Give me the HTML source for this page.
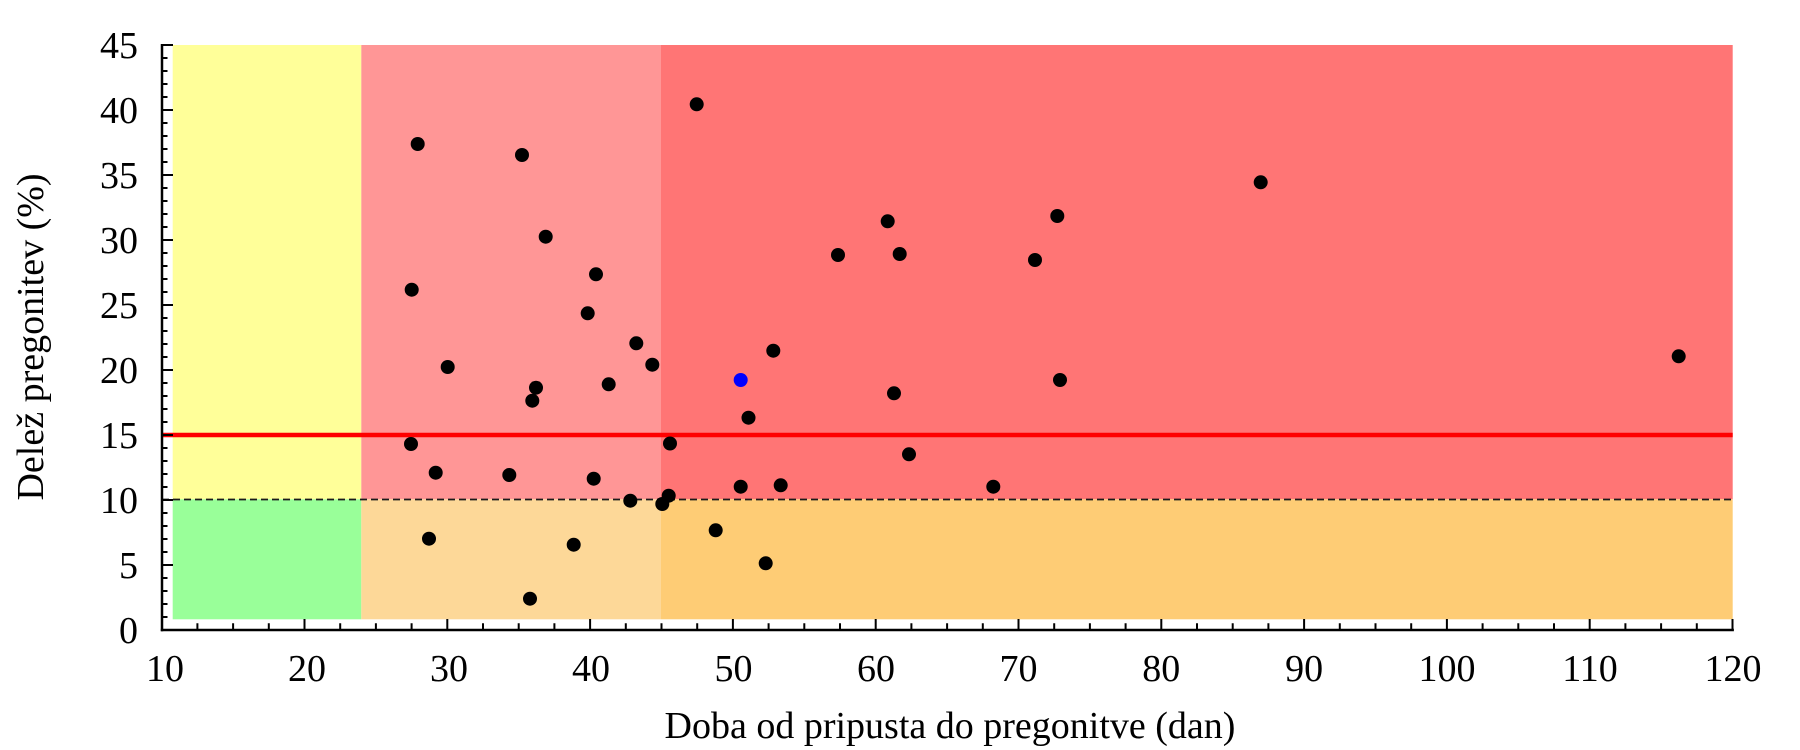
<!DOCTYPE html>
<html>
<head>
<meta charset="utf-8">
<style>
  html, body { margin: 0; padding: 0; background: #ffffff; }
  svg { display: block; }
  text { font-family: "Liberation Serif", "DejaVu Serif", serif; fill: #000; }
</style>
</head>
<body>
<svg width="1800" height="750" viewBox="0 0 1800 750" xmlns="http://www.w3.org/2000/svg">
  <rect x="0" y="0" width="1800" height="750" fill="#ffffff"/>

  <rect x="172.7" y="45" width="188.6" height="454.3" fill="#ffff99"/>
  <rect x="361.3" y="45" width="299.7" height="454.3" fill="#ff9696"/>
  <rect x="661" y="45" width="1071.7" height="454.3" fill="#ff7575"/>
  <rect x="172.7" y="499.3" width="188.6" height="120" fill="#99ff99"/>
  <rect x="361.3" y="499.3" width="299.7" height="120" fill="#fdd898"/>
  <rect x="661" y="499.3" width="1071.7" height="120" fill="#fecc75"/>

  <line x1="162" y1="435" x2="1732.7" y2="435" stroke="#ff0000" stroke-width="4.5"/>
  <line x1="162" y1="499.5" x2="1732.7" y2="499.5" stroke="#1a1a1a" stroke-width="1.8" stroke-dasharray="7,4"/>

  <g fill="#000000">
    <circle cx="696.7" cy="104.3" r="7"/>
    <circle cx="417.7" cy="144" r="7"/>
    <circle cx="522" cy="155" r="7"/>
    <circle cx="1260.7" cy="182.3" r="7"/>
    <circle cx="1057.3" cy="216" r="7"/>
    <circle cx="887.7" cy="221.3" r="7"/>
    <circle cx="545.7" cy="236.7" r="7"/>
    <circle cx="838" cy="255" r="7"/>
    <circle cx="899.7" cy="254" r="7"/>
    <circle cx="1035" cy="260" r="7"/>
    <circle cx="596" cy="274.3" r="7"/>
    <circle cx="411.7" cy="289.7" r="7"/>
    <circle cx="587.7" cy="313.3" r="7"/>
    <circle cx="636.3" cy="343.3" r="7"/>
    <circle cx="773.3" cy="350.7" r="7"/>
    <circle cx="1678.7" cy="356.3" r="7"/>
    <circle cx="652.3" cy="364.7" r="7"/>
    <circle cx="447.7" cy="367" r="7"/>
    <circle cx="1060" cy="380" r="7"/>
    <circle cx="608.7" cy="384.3" r="7"/>
    <circle cx="536" cy="387.7" r="7"/>
    <circle cx="894" cy="393.3" r="7"/>
    <circle cx="532.3" cy="400.7" r="7"/>
    <circle cx="748.5" cy="417.7" r="7"/>
    <circle cx="411" cy="444" r="7"/>
    <circle cx="670" cy="443.5" r="7"/>
    <circle cx="909" cy="454.3" r="7"/>
    <circle cx="435.7" cy="472.7" r="7"/>
    <circle cx="509.3" cy="475" r="7"/>
    <circle cx="593.7" cy="478.7" r="7"/>
    <circle cx="740.7" cy="486.7" r="7"/>
    <circle cx="780.7" cy="485.3" r="7"/>
    <circle cx="993.3" cy="486.7" r="7"/>
    <circle cx="630.3" cy="500.7" r="7"/>
    <circle cx="668.7" cy="495.7" r="7"/>
    <circle cx="662.3" cy="504" r="7"/>
    <circle cx="429" cy="538.7" r="7"/>
    <circle cx="573.7" cy="544.7" r="7"/>
    <circle cx="715.7" cy="530.3" r="7"/>
    <circle cx="765.7" cy="563.3" r="7"/>
    <circle cx="530" cy="598.7" r="7"/>
  </g>
  <circle cx="740.7" cy="380" r="7" fill="#0000ff"/>

  <g stroke="#000" stroke-width="2.5" fill="none">
    <line x1="162" y1="44" x2="162" y2="631.2"/>
    <line x1="160.8" y1="630" x2="1733.9" y2="630"/>
  </g>

  <path stroke="#000" stroke-width="2" fill="none" d="M162 45h11M162 110h11M162 175h11M162 240h11M162 305h11M162 370h11M162 435h11M162 500h11M162 565h11"/>
  <path stroke="#000" stroke-width="2" fill="none" d="M162 58h5.5M162 71h5.5M162 84h5.5M162 97h5.5M162 123h5.5M162 136h5.5M162 149h5.5M162 162h5.5M162 188h5.5M162 201h5.5M162 214h5.5M162 227h5.5M162 253h5.5M162 266h5.5M162 279h5.5M162 292h5.5M162 318h5.5M162 331h5.5M162 344h5.5M162 357h5.5M162 383h5.5M162 396h5.5M162 409h5.5M162 422h5.5M162 448h5.5M162 461h5.5M162 474h5.5M162 487h5.5M162 513h5.5M162 526h5.5M162 539h5.5M162 552h5.5M162 578h5.5M162 591h5.5M162 604h5.5M162 617h5.5"/>

  <path stroke="#000" stroke-width="2" fill="none" d="M304.5 630v-11M447.3 630v-11M590.1 630v-11M732.9 630v-11M875.7 630v-11M1018.5 630v-11M1161.3 630v-11M1304.1 630v-11M1446.9 630v-11M1589.7 630v-11M1732.5 630v-11"/>
  <path stroke="#000" stroke-width="2" fill="none" d="M197.4 630v-6.7M233.1 630v-6.7M268.8 630v-6.7M340.2 630v-6.7M375.9 630v-6.7M411.6 630v-6.7M483 630v-6.7M518.7 630v-6.7M554.4 630v-6.7M625.8 630v-6.7M661.5 630v-6.7M697.2 630v-6.7M768.6 630v-6.7M804.3 630v-6.7M840 630v-6.7M911.4 630v-6.7M947.1 630v-6.7M982.8 630v-6.7M1054.2 630v-6.7M1089.9 630v-6.7M1125.6 630v-6.7M1197 630v-6.7M1232.7 630v-6.7M1268.4 630v-6.7M1339.8 630v-6.7M1375.5 630v-6.7M1411.2 630v-6.7M1482.6 630v-6.7M1518.3 630v-6.7M1554 630v-6.7M1625.4 630v-6.7M1661.1 630v-6.7M1696.8 630v-6.7"/>

  <g font-size="38" text-anchor="end">
    <text x="138" y="58">45</text>
    <text x="138" y="123">40</text>
    <text x="138" y="188">35</text>
    <text x="138" y="253">30</text>
    <text x="138" y="318">25</text>
    <text x="138" y="383">20</text>
    <text x="138" y="448">15</text>
    <text x="138" y="513">10</text>
    <text x="138" y="578">5</text>
    <text x="138" y="643">0</text>
  </g>

  <g font-size="38" text-anchor="middle">
    <text x="165" y="681">10</text>
    <text x="307" y="681">20</text>
    <text x="449" y="681">30</text>
    <text x="591" y="681">40</text>
    <text x="733.5" y="681">50</text>
    <text x="876" y="681">60</text>
    <text x="1018.5" y="681">70</text>
    <text x="1161.3" y="681">80</text>
    <text x="1304.1" y="681">90</text>
    <text x="1447" y="681">100</text>
    <text x="1590" y="681">110</text>
    <text x="1733" y="681">120</text>
  </g>

  <text x="950" y="738" font-size="38" text-anchor="middle">Doba od pripusta do pregonitve (dan)</text>
  <text x="0" y="0" font-size="38" text-anchor="middle" transform="translate(43,337) rotate(-90)">Delež pregonitev (%)</text>
</svg>
</body>
</html>
